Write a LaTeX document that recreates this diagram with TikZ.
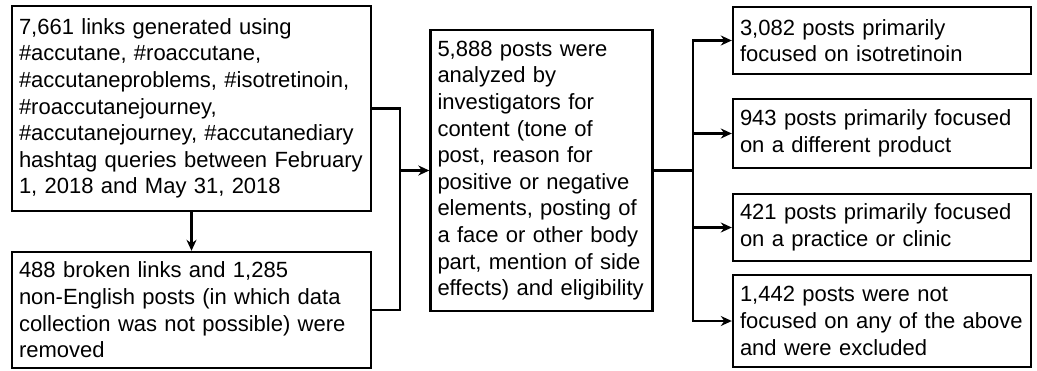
\documentclass[tikz,border=0pt]{standalone}
\usepackage{fontspec}
\setmainfont{Liberation Sans}
\usetikzlibrary{arrows.meta}
\begin{document}
\begin{tikzpicture}[x=0.5pt, y=-0.5pt, line width=1.2pt,
  >={Stealth[length=5.5pt, width=5pt]},
  box/.style={draw, rectangle, align=left, inner xsep=3.5pt, inner ysep=0pt,
    font=\fontsize{11}{13.3}\selectfont}]
  \useasboundingbox (0,0) rectangle (1037,370);
  % left column
  \node[box, minimum width=179.5pt, minimum height=102.5pt, text width=172.5pt] (links) at (191.5,108.5)
    {7,661 links generated using\\ \#accutane, \#roaccutane,\\ \#accutaneproblems, \#isotretinoin,\\ \#roaccutanejourney,\\ \#accutanejourney, \#accutanediary\\ hashtag queries between February\\ 1, 2018 and May 31, 2018};
  \node[box, minimum width=179.5pt, minimum height=58pt, text width=172.5pt] (removed) at (191.5,310)
    {488 broken links and 1,285\\ non-English posts (in which data\\ collection was not possible) were\\ removed};
  % middle
  \node[box, minimum width=110.5pt, minimum height=140.5pt, text width=104pt] (analyzed) at (541.5,170.5)
    {5,888 posts were\\ analyzed by\\ investigators for\\ content (tone of\\ post, reason for\\ positive or negative\\ elements, posting of\\ a face or other body\\ part, mention of side\\ effects) and eligibility};
  % right column
  \node[box, minimum width=149pt, minimum height=33.5pt, text width=142pt] (iso) at (882,40.5)
    {3,082 posts primarily\\ focused on isotretinoin};
  \node[box, minimum width=149pt, minimum height=34.5pt, text width=142pt] (product) at (882,133.5)
    {943 posts primarily focused\\ on a different product};
  \node[box, minimum width=149pt, minimum height=33.5pt, text width=142pt] (clinic) at (882,227.5)
    {421 posts primarily focused\\ on a practice or clinic};
  \node[box, minimum width=149pt, minimum height=46pt, text width=142pt] (excluded) at (882,321)
    {1,442 posts were not\\ focused on any of the above\\ and were excluded};
  \coordinate (join) at (400,170.5);
  \coordinate (split) at (693,170.5);
  % connectors
  \draw[->] (links) -- (removed);
  \draw (links.east) -| (join) |- (removed.east);
  \draw[->] (join) -- (analyzed.west);
  \draw (analyzed.east) -- (split);
  \foreach \n in {iso,product,clinic,excluded}
    \draw[->] (split) |- (\n.west);
\end{tikzpicture}
\end{document}
